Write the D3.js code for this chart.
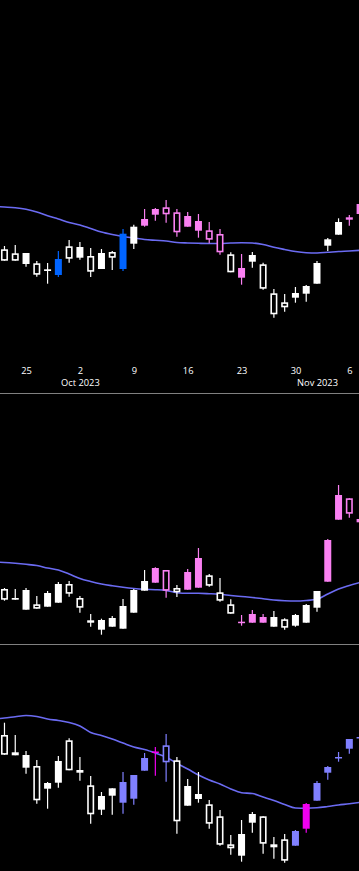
<!DOCTYPE html>
<html>
<head>
<meta charset="utf-8">
<script src="https://cdn.jsdelivr.net/npm/d3@7"></script>
<style>
  html, body { margin: 0; padding: 0; background: #000; overflow: hidden; }
  svg { display: block; }
</style>
</head>
<body>
<svg></svg>
<script>
const width = 359;
const height = 871;

// trading days, first one only carries the moving average
const dates = [
  "2023-09-20", "2023-09-21", "2023-09-22", "2023-09-25", "2023-09-26", "2023-09-27", "2023-09-28", "2023-09-29",
  "2023-10-02", "2023-10-03", "2023-10-04", "2023-10-05", "2023-10-06",
  "2023-10-09", "2023-10-10", "2023-10-11", "2023-10-12", "2023-10-13",
  "2023-10-16", "2023-10-17", "2023-10-18", "2023-10-19", "2023-10-20",
  "2023-10-23", "2023-10-24", "2023-10-25", "2023-10-26", "2023-10-27",
  "2023-10-30", "2023-10-31", "2023-11-01", "2023-11-02", "2023-11-03",
  "2023-11-06", "2023-11-07"
];

const dayTicks = ["2023-09-25", "2023-10-02", "2023-10-09", "2023-10-16", "2023-10-23", "2023-10-30", "2023-11-06"];
const monthTicks = ["2023-10-02", "2023-11-01"];

// panel 1
const topOpen = [null, 15.07, 14.67, 13.6, 13.67, 12.9, 12.5, 15.37, 14.23, 14.4, 13.1, 14.8, 13.1, 15.63, 17.43, 18.53, 19.27, 18.77, 17.33, 16.93, 16.97, 16.6, 14.57, 12.23, 13.83, 13.57, 10.67, 9.77, 10.23, 10.63, 11.63, 15.43, 16.53, 18.03, 18.6];
const topHigh = [null, 15.4, 15.5, 14.7, 13.9, 13.7, 14.9, 16.0, 15.8, 15.2, 15.1, 14.9, 17.1, 17.53, 19.1, 19.2, 20.0, 19.1, 18.8, 18.6, 17.8, 17.1, 14.77, 14.6, 14.8, 13.73, 11.1, 10.6, 11.3, 11.5, 13.9, 16.2, 18.17, 18.5, 19.8];
const topLow = [null, 13.93, 13.93, 13.33, 12.33, 11.63, 12.3, 13.73, 14.03, 12.3, 13.1, 13.0, 12.9, 15.1, 17.33, 17.93, 17.73, 16.33, 17.33, 16.23, 15.67, 14.53, 12.77, 11.53, 13.23, 11.03, 8.23, 8.83, 9.73, 9.83, 11.63, 14.9, 16.53, 17.43, 18.4];
const topClose = [null, 13.93, 13.93, 14.7, 12.53, 13.07, 14.1, 14.13, 15.3, 12.83, 14.7, 14.23, 16.63, 17.33, 18.1, 19.1, 18.57, 16.77, 18.4, 17.9, 16.03, 14.77, 12.77, 13.2, 14.5, 11.13, 8.57, 9.27, 10.7, 11.4, 13.7, 16.07, 17.8, 18.27, 19.6];
const topMa = [19.37, 19.3, 19.22, 19.07, 18.8, 18.42, 18.1, 17.75, 17.5, 17.15, 16.8, 16.55, 16.35, 16.2, 16.05, 15.97, 15.9, 15.75, 15.7, 15.67, 15.65, 15.65, 15.7, 15.73, 15.7, 15.55, 15.27, 15.05, 14.85, 14.73, 14.7, 14.77, 14.85, 14.9, 14.97];
const topFlag = ["", "n", "n", "n", "n", "n", "b", "n", "n", "n", "n", "n", "b", "n", "p", "p", "p", "p", "p", "p", "p", "p", "n", "p", "n", "n", "n", "n", "n", "n", "n", "n", "n", "p", "p"];

// panel 2
const midOpen = [null, 6.1, 5.03, 4.03, 4.57, 4.33, 4.73, 6.6, 5.2, 2.97, 2.03, 2.33, 2.13, 3.73, 5.93, 6.73, 8.0, 6.2, 6.03, 6.23, 7.47, 5.77, 4.57, 2.77, 2.73, 2.73, 2.33, 3.07, 2.43, 2.73, 4.23, 6.83, 13.03, 15.17, 12.77];
const midHigh = [null, 6.2, 6.1, 6.2, 5.4, 5.9, 6.8, 6.9, 5.4, 3.6, 3.13, 3.4, 5.1, 6.1, 8.0, 8.27, 8.0, 6.5, 8.1, 10.2, 7.6, 7.2, 5.07, 3.5, 4.0, 3.6, 3.9, 3.17, 3.6, 4.6, 5.9, 11.1, 16.5, 15.17, 13.1];
const midLow = [null, 4.93, 5.03, 4.03, 4.13, 4.33, 4.73, 5.33, 3.73, 2.33, 1.53, 2.33, 2.13, 3.73, 5.93, 6.73, 5.23, 5.3, 6.03, 6.23, 6.33, 4.83, 3.63, 2.43, 2.73, 2.73, 2.33, 2.03, 2.33, 2.73, 3.83, 6.83, 13.03, 13.23, 12.77];
const midClose = [null, 5.03, 5.2, 6.0, 4.13, 5.7, 6.6, 5.63, 4.23, 2.73, 3.0, 3.2, 4.4, 6.0, 6.9, 8.2, 5.93, 5.77, 7.8, 9.2, 6.43, 4.93, 3.63, 2.83, 3.6, 3.3, 3.3, 2.23, 3.5, 4.5, 5.9, 11.0, 15.5, 13.63, 13.1];
const midMa = [8.8, 8.75, 8.67, 8.57, 8.45, 8.2, 8.0, 7.6, 7.15, 6.85, 6.6, 6.42, 6.27, 6.15, 6.07, 6.03, 5.95, 5.73, 5.67, 5.67, 5.63, 5.57, 5.45, 5.35, 5.25, 5.13, 5.0, 4.93, 4.9, 4.95, 5.07, 5.6, 6.1, 6.45, 6.75];
const midFlag = ["", "n", "n", "n", "n", "n", "n", "n", "n", "n", "n", "n", "n", "n", "n", "p", "p", "n", "p", "p", "n", "n", "n", "p", "p", "p", "n", "n", "n", "n", "n", "p", "p", "p", "p"];

// panel 3
const botOpen = [null, 14.5, 12.77, 11.23, 11.4, 9.13, 9.73, 13.97, 10.73, 9.47, 7.03, 8.43, 7.73, 8.13, 10.93, 12.75, 13.47, 11.97, 7.43, 8.1, 7.57, 6.37, 3.57, 2.43, 5.73, 6.37, 3.57, 4.07, 3.43, 5.13, 7.93, 10.73, 12.17, 13.13, 14.15];
const botHigh = [null, 15.73, 14.5, 12.9, 12.0, 9.8, 12.4, 14.17, 12.3, 10.4, 8.8, 9.17, 10.8, 10.5, 12.7, 13.3, 14.6, 12.3, 10.1, 10.8, 8.0, 7.0, 4.5, 6.0, 6.8, 6.37, 4.3, 4.6, 5.0, 7.7, 9.9, 11.4, 12.8, 14.1, 14.3];
const botLow = [null, 12.53, 12.47, 10.63, 7.63, 7.13, 9.23, 10.97, 9.93, 5.63, 6.5, 6.53, 6.63, 7.53, 10.93, 10.43, 9.83, 4.63, 7.43, 7.73, 5.13, 3.43, 2.53, 1.83, 4.73, 2.63, 2.13, 1.73, 3.43, 4.73, 7.93, 10.03, 11.83, 12.63, 14.15];
const botClose = [null, 12.53, 12.47, 12.5, 7.97, 9.7, 11.9, 10.97, 11.0, 6.57, 8.4, 9.17, 9.8, 10.5, 12.2, 12.85, 11.77, 5.87, 9.4, 8.6, 5.63, 3.53, 3.17, 4.6, 6.6, 3.63, 3.27, 1.93, 4.9, 7.6, 9.7, 11.3, 12.3, 14.1, 14.3];
const botMa = [16.1, 16.2, 16.33, 16.45, 16.35, 16.1, 15.95, 15.75, 15.4, 14.75, 14.45, 14.1, 13.7, 13.3, 13.05, 12.7, 12.3, 11.65, 11.1, 10.5, 10.0, 9.6, 9.1, 8.73, 8.65, 8.3, 7.95, 7.55, 7.2, 7.18, 7.22, 7.35, 7.5, 7.62, 7.77];
const botFlag = ["", "n", "n", "n", "n", "n", "n", "n", "n", "n", "n", "n", "v", "v", "v", "m", "v", "n", "n", "n", "n", "n", "n", "n", "n", "n", "n", "n", "v", "m", "v", "v", "v", "v", "v"];

const flagColor = { n: "#ffffff", p: "#fa80f2", b: "#0064ff", v: "#8080ff", m: "#f000f0" };

const svg = d3.select("svg")
  .attr("width", width)
  .attr("height", height)
  .style("background", "#000");

const x = d3.scalePoint()
  .domain(dates)
  .range([-6.3, 360.1]);

const bodyW = 7;

function drawPanel(y, opens, highs, lows, closes, ma, flags) {
  const g = svg.append("g");

  const line = d3.line()
    .x((d, i) => x(dates[i]))
    .y(d => y(d))
    .curve(d3.curveMonotoneX);

  g.append("path")
    .datum(ma)
    .attr("fill", "none")
    .attr("stroke", "#6b6bf2")
    .attr("stroke-width", 1.6)
    .attr("d", line);

  const candles = dates.map((d, i) => ({
    date: d, o: opens[i], h: highs[i], l: lows[i], c: closes[i], col: flagColor[flags[i]]
  })).filter(d => d.o != null);

  const c = g.selectAll("g.candle")
    .data(candles)
    .enter()
    .append("g")
    .attr("class", "candle");

  c.append("line")
    .attr("x1", d => x(d.date))
    .attr("x2", d => x(d.date))
    .attr("y1", d => y(d.h))
    .attr("y2", d => y(d.l))
    .attr("stroke", d => d.col)
    .attr("stroke-width", 1.2);

  // rising: filled body
  c.filter(d => d.c >= d.o)
    .append("rect")
    .attr("x", d => x(d.date) - bodyW / 2)
    .attr("width", bodyW)
    .attr("y", d => y(d.c))
    .attr("height", d => Math.max(1.5, y(d.o) - y(d.c)))
    .attr("fill", d => d.col);

  // falling: hollow body
  c.filter(d => d.c < d.o)
    .append("rect")
    .attr("x", d => x(d.date) - bodyW / 2 + 0.8)
    .attr("width", bodyW - 1.6)
    .attr("y", d => y(d.o) + 0.8)
    .attr("height", d => Math.max(0.5, y(d.c) - y(d.o) - 1.6))
    .attr("fill", "#000")
    .attr("stroke", d => d.col)
    .attr("stroke-width", 1.6);
}

const yTop = d3.scaleLinear().domain([0, 40]).range([400, 0]);
const yMid = d3.scaleLinear().domain([0, 25.6]).range([650, 394]);
const yBot = d3.scaleLinear().domain([0, 23]).range([880, 650]);

drawPanel(yTop, topOpen, topHigh, topLow, topClose, topMa, topFlag);
drawPanel(yMid, midOpen, midHigh, midLow, midClose, midMa, midFlag);
drawPanel(yBot, botOpen, botHigh, botLow, botClose, botMa, botFlag);

// date axis under the first panel
const parse = d3.timeParse("%Y-%m-%d");

const dayAxis = svg.append("g")
  .attr("transform", "translate(0,360)")
  .call(d3.axisBottom(x)
    .tickValues(dayTicks)
    .tickFormat(d => parse(d).getDate())
    .tickSize(0)
    .tickPadding(7));

const monthAxis = svg.append("g")
  .attr("transform", "translate(0,373)")
  .call(d3.axisBottom(x)
    .tickValues(monthTicks)
    .tickFormat(d => d3.timeFormat("%b %Y")(parse(d)))
    .tickSize(0)
    .tickPadding(6));

[dayAxis, monthAxis].forEach(a => {
  a.select(".domain").remove();
  a.selectAll("text")
    .attr("fill", "#fff")
    .style("font-family", "'Open Sans', sans-serif")
    .style("font-size", "9.3px");
});

// panel separators
svg.selectAll("line.sep")
  .data([393.5, 644.5])
  .enter()
  .append("line")
  .attr("class", "sep")
  .attr("x1", 0)
  .attr("x2", width)
  .attr("y1", d => d)
  .attr("y2", d => d)
  .attr("stroke", "#808080")
  .attr("stroke-width", 1);
</script>
</body>
</html>
